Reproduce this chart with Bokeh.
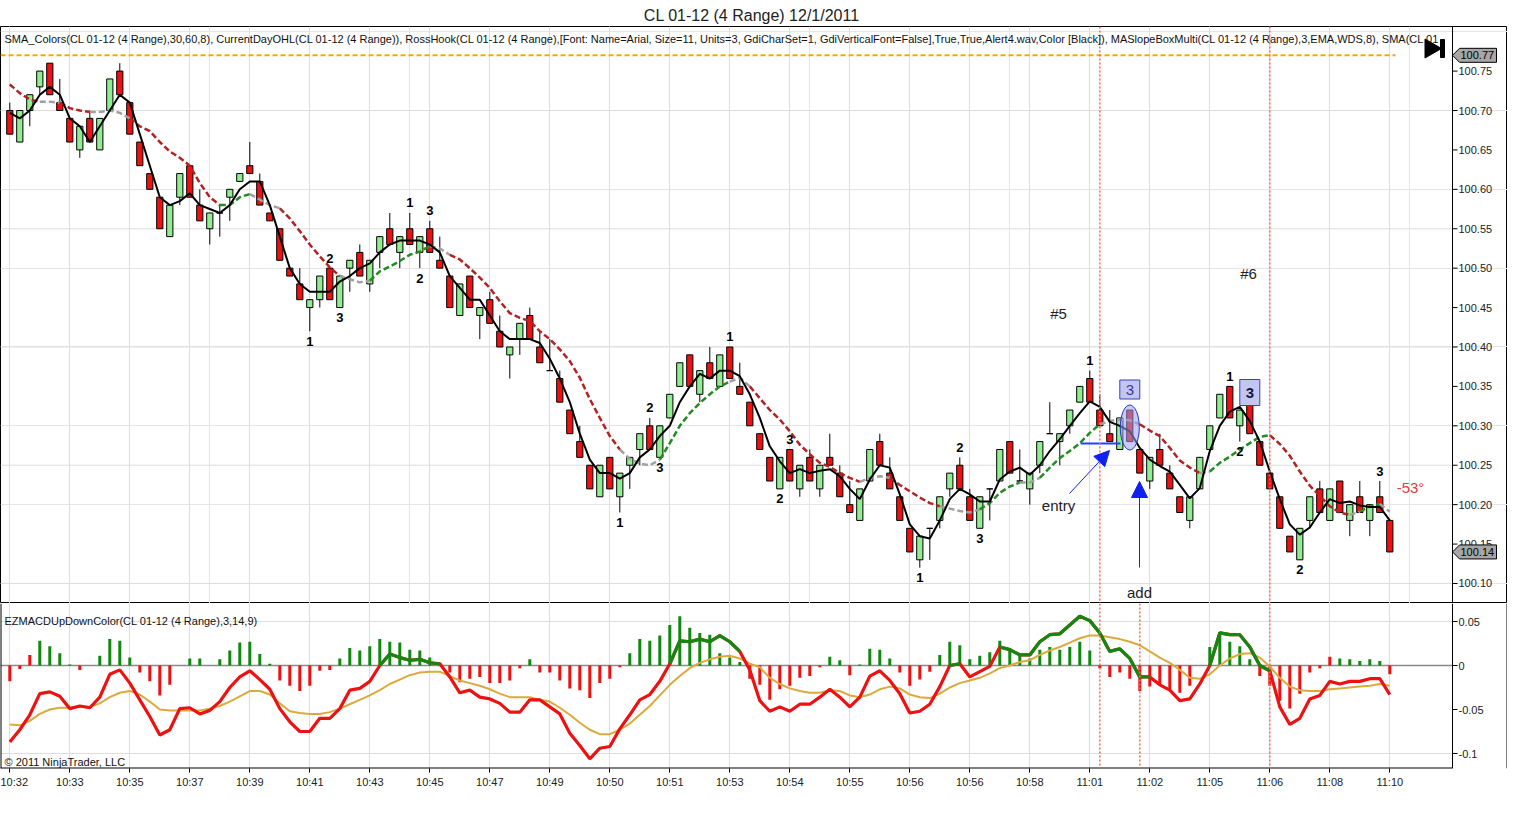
import numpy as np
from bokeh.plotting import figure
from bokeh.layouts import column
from bokeh.models import (Label, Arrow, NormalHead, Span, Grid, FixedTicker,
                          Range1d, ColumnDataSource)
from bokeh.embed import file_html
from bokeh.resources import INLINE
from bokeh.core.properties import value

FONT = "Liberation Sans"

# ---------------- data ----------------
time_labels = ["10:32", "10:33", "10:35", "10:37", "10:39", "10:41", "10:43", "10:45", "10:47", "10:49",
               "10:50", "10:51", "10:53", "10:54", "10:55", "10:56", "10:56", "10:58", "11:01", "11:02",
               "11:05", "11:06", "11:08", "11:10"]
price_ticks = [100.10, 100.15, 100.20, 100.25, 100.30, 100.35, 100.40, 100.45, 100.50, 100.55,
               100.60, 100.65, 100.70, 100.75]
price_grid = [100.10, 100.25, 100.40, 100.55, 100.70]
macd_ticks = [0.05, 0, -0.05, -0.1]
macd_tick_labels = ["0.05", "0", "-0.05", "-0.1"]
macd_grid = [0.05, -0.1]

opens = [100.70,100.66,100.70,100.73,100.76,100.71,100.69,100.65,100.69,100.65,
         100.70,100.75,100.71,100.66,100.62,100.59,100.54,100.59,100.63,100.58,
         100.55,100.57,100.59,100.61,100.63,100.61,100.57,100.55,100.50,100.48,
         100.45,100.46,100.50,100.45,100.50,100.52,100.48,100.52,100.55,100.52,
         100.55,100.52,100.55,100.51,100.49,100.44,100.49,100.44,100.46,100.42,
         100.39,100.41,100.44,100.40,100.37,100.36,100.32,100.28,100.25,100.21,
         100.26,100.21,100.25,100.27,100.30,100.26,100.31,100.35,100.39,100.34,
         100.38,100.35,100.40,100.35,100.33,100.29,100.26,100.22,100.27,100.22,
         100.26,100.22,100.26,100.24,100.20,100.18,100.23,100.28,100.24,100.21,
         100.17,100.13,100.17,100.18,100.22,100.25,100.21,100.17,100.22,100.23,
         100.28,100.23,100.22,100.25,100.29,100.28,100.30,100.33,100.36,100.32,
         100.29,100.27,100.32,100.27,100.23,100.27,100.24,100.21,100.18,100.22,
         100.27,100.31,100.35,100.30,100.33,100.28,100.24,100.21,100.16,100.13,
         100.18,100.22,100.18,100.23,100.18,100.21,100.18,100.21,100.18]
highs = [100.71,100.70,100.72,100.75,100.76,100.74,100.69,100.68,100.70,100.69,
         100.74,100.76,100.71,100.66,100.62,100.59,100.58,100.62,100.63,100.60,
         100.57,100.58,100.60,100.62,100.66,100.62,100.57,100.55,100.50,100.50,
         100.46,100.49,100.50,100.49,100.51,100.53,100.51,100.54,100.57,100.54,
         100.57,100.54,100.56,100.54,100.49,100.48,100.49,100.45,100.47,100.44,
         100.40,100.43,100.45,100.42,100.41,100.37,100.32,100.30,100.25,100.25,
         100.26,100.24,100.26,100.29,100.31,100.30,100.34,100.38,100.39,100.37,
         100.40,100.39,100.40,100.38,100.33,100.29,100.26,100.26,100.27,100.25,
         100.27,100.25,100.29,100.25,100.23,100.22,100.27,100.29,100.26,100.21,
         100.17,100.16,100.17,100.21,100.24,100.26,100.22,100.21,100.22,100.27,
         100.28,100.27,100.24,100.28,100.33,100.29,100.32,100.35,100.37,100.34,
         100.32,100.31,100.32,100.27,100.26,100.29,100.25,100.21,100.21,100.26,
         100.30,100.34,100.35,100.32,100.33,100.28,100.24,100.21,100.16,100.17,
         100.21,100.23,100.22,100.23,100.20,100.23,100.20,100.23,100.18]
lows = [100.67,100.66,100.68,100.72,100.72,100.70,100.66,100.64,100.66,100.65,
        100.70,100.72,100.67,100.63,100.60,100.55,100.54,100.58,100.59,100.56,
        100.53,100.54,100.56,100.61,100.62,100.58,100.56,100.51,100.49,100.46,
        100.42,100.45,100.46,100.45,100.47,100.49,100.47,100.50,100.53,100.50,
        100.53,100.50,100.52,100.50,100.45,100.44,100.45,100.41,100.43,100.40,
        100.36,100.39,100.41,100.38,100.37,100.33,100.29,100.26,100.22,100.21,
        100.22,100.19,100.22,100.25,100.27,100.26,100.31,100.35,100.35,100.33,
        100.36,100.35,100.36,100.34,100.30,100.27,100.23,100.22,100.23,100.21,
        100.23,100.21,100.25,100.21,100.19,100.18,100.23,100.25,100.22,100.18,
        100.14,100.12,100.13,100.17,100.21,100.22,100.18,100.17,100.18,100.23,
        100.24,100.23,100.20,100.24,100.29,100.25,100.29,100.33,100.33,100.30,
        100.28,100.27,100.28,100.24,100.22,100.25,100.22,100.19,100.17,100.22,
        100.27,100.31,100.31,100.28,100.29,100.25,100.22,100.17,100.14,100.13,
        100.17,100.19,100.18,100.19,100.16,100.19,100.16,100.19,100.14]
closes = [100.67,100.70,100.72,100.75,100.72,100.70,100.66,100.68,100.66,100.69,
          100.74,100.72,100.67,100.63,100.60,100.55,100.58,100.62,100.59,100.56,
          100.57,100.57,100.60,100.62,100.62,100.58,100.56,100.51,100.49,100.46,
          100.46,100.49,100.46,100.49,100.51,100.49,100.51,100.54,100.53,100.54,
          100.53,100.54,100.52,100.50,100.45,100.48,100.45,100.45,100.43,100.40,
          100.40,100.43,100.41,100.38,100.37,100.33,100.29,100.26,100.22,100.25,
          100.22,100.24,100.26,100.29,100.27,100.30,100.34,100.38,100.35,100.37,
          100.36,100.39,100.36,100.34,100.30,100.27,100.23,100.26,100.23,100.25,
          100.23,100.25,100.25,100.21,100.19,100.22,100.27,100.25,100.22,100.18,
          100.14,100.16,100.17,100.21,100.24,100.22,100.18,100.21,100.22,100.27,
          100.24,100.23,100.24,100.28,100.29,100.29,100.32,100.35,100.33,100.30,
          100.28,100.31,100.28,100.24,100.26,100.25,100.22,100.19,100.21,100.26,
          100.30,100.34,100.31,100.32,100.29,100.25,100.22,100.17,100.14,100.17,
          100.21,100.19,100.22,100.19,100.20,100.19,100.20,100.19,100.14]

ema_line = [100.697,100.690,100.700,100.720,100.730,100.720,100.690,100.680,100.660,100.680,
            100.700,100.720,100.710,100.670,100.630,100.590,100.580,100.585,100.595,100.580,
            100.575,100.570,100.580,100.600,100.610,100.610,100.580,100.540,100.500,100.480,
            100.470,100.470,100.470,100.483,100.490,100.500,100.506,100.520,100.530,100.535,
            100.535,100.535,100.530,100.520,100.490,100.475,100.460,100.460,100.440,100.420,
            100.410,100.410,100.410,100.405,100.385,100.360,100.330,100.290,100.257,100.240,
            100.240,100.233,100.240,100.260,100.270,100.287,100.300,100.330,100.350,100.366,
            100.360,100.370,100.370,100.363,100.340,100.310,100.274,100.255,100.240,100.245,
            100.240,100.243,100.245,100.236,100.220,100.207,100.232,100.250,100.247,100.213,
            100.175,100.160,100.157,100.180,100.207,100.220,100.213,100.204,100.204,100.232,
            100.242,100.247,100.238,100.250,100.268,100.283,100.300,100.316,100.331,100.324,
            100.305,100.300,100.293,100.272,100.257,100.249,100.242,100.225,100.208,100.221,
            100.268,100.300,100.318,100.324,100.306,100.280,100.242,100.207,100.175,100.162,
            100.171,100.190,100.207,100.202,100.204,100.199,100.197,100.197,100.180]

sma_line = [100.733,100.722,100.714,100.711,100.711,100.710,100.703,100.700,100.698,100.698,
            100.700,100.697,100.690,100.680,100.674,100.660,100.648,100.640,100.630,100.608,
            100.590,100.580,100.580,100.590,100.594,100.587,100.580,100.576,100.563,100.547,
            100.530,100.515,100.501,100.490,100.486,100.482,100.484,100.496,100.502,100.509,
            100.517,100.521,100.528,100.525,100.517,100.511,100.500,100.488,100.475,100.458,
            100.443,100.437,100.433,100.420,100.410,100.397,100.382,100.361,100.334,100.310,
            100.287,100.270,100.258,100.252,100.250,100.257,100.278,100.300,100.316,100.329,
            100.340,100.350,100.356,100.361,100.350,100.335,100.320,100.308,100.293,100.276,
            100.264,100.253,100.248,100.240,100.234,100.229,100.234,100.236,100.234,100.225,
            100.217,100.209,100.202,100.198,100.195,100.192,100.190,100.194,100.202,100.215,
            100.223,100.228,100.228,100.234,100.247,100.259,100.268,100.278,100.291,100.302,
            100.306,100.308,100.307,100.302,100.294,100.287,100.272,100.256,100.247,100.240,
            100.242,100.253,100.261,100.270,100.278,100.286,100.288,100.277,100.262,100.242,
            100.224,100.211,100.198,100.190,100.187,100.191,100.198,100.201,100.191]
# slope state of the coloured SMA: d = falling, u = rising, f = flat
sma_runs = [("d", 0, 3), ("f", 3, 5), ("d", 5, 8), ("f", 8, 12), ("d", 12, 21), ("u", 21, 24),
            ("f", 24, 27), ("d", 27, 33), ("f", 33, 36), ("u", 36, 42), ("f", 42, 44), ("d", 44, 61),
            ("f", 61, 65), ("u", 65, 72), ("f", 72, 74), ("d", 74, 85), ("f", 85, 88), ("d", 88, 93),
            ("f", 93, 97), ("u", 97, 101), ("f", 101, 103), ("u", 103, 109), ("f", 109, 113),
            ("d", 113, 119), ("f", 119, 120), ("u", 120, 126), ("d", 126, 134), ("f", 134, 135),
            ("u", 135, 137), ("f", 137, 138)]

day_high = 100.77
last_price = 100.14

swing_bars = [30, 32, 33, 40, 41, 42, 61, 64, 65, 72, 77, 78, 91, 95, 97, 108, 122, 123, 129, 137]
swing_texts = ["1", "2", "3", "1", "2", "3", "1", "2", "3", "1", "2", "3", "1", "2", "3", "1", "1", "2", "2", "3"]
swing_above = [False, True, False, True, False, True, False, True, False, True, False, True,
               False, True, False, True, True, False, False, True]
box_bars = [112, 124]
marker_bars_main = [109, 126]
marker_bars_macd = [109, 113, 126]

macd = [-0.087,-0.073,-0.056,-0.032,-0.030,-0.035,-0.049,-0.046,-0.048,-0.036,
        -0.010,-0.005,-0.020,-0.039,-0.058,-0.079,-0.073,-0.049,-0.048,-0.055,
        -0.051,-0.041,-0.025,-0.013,-0.006,-0.016,-0.027,-0.049,-0.064,-0.075,
        -0.075,-0.060,-0.060,-0.049,-0.028,-0.026,-0.018,0.000,0.013,0.009,
        0.006,0.007,0.003,0.002,-0.013,-0.031,-0.028,-0.036,-0.038,-0.043,
        -0.053,-0.053,-0.039,-0.039,-0.047,-0.055,-0.077,-0.091,-0.106,-0.094,
        -0.092,-0.072,-0.056,-0.039,-0.033,-0.018,0.002,0.028,0.027,0.030,
        0.027,0.034,0.027,0.016,-0.005,-0.040,-0.052,-0.047,-0.052,-0.044,
        -0.044,-0.036,-0.027,-0.036,-0.047,-0.036,-0.012,-0.006,-0.017,-0.032,
        -0.054,-0.052,-0.044,-0.024,0.000,0.002,-0.013,-0.007,-0.001,0.021,
        0.018,0.012,0.012,0.027,0.035,0.036,0.046,0.056,0.051,0.037,
        0.016,0.019,0.008,-0.013,-0.013,-0.022,-0.028,-0.040,-0.038,-0.021,
        0.000,0.037,0.035,0.035,0.021,0.000,-0.006,-0.047,-0.067,-0.060,
        -0.038,-0.034,-0.018,-0.021,-0.018,-0.018,-0.015,-0.015,-0.033]
macd_up_runs = [(37, 43), (66, 73), (94, 95), (99, 114), (120, 126)]
signal = [-0.067,-0.068,-0.063,-0.055,-0.050,-0.048,-0.048,-0.047,-0.047,-0.043,
          -0.036,-0.031,-0.029,-0.033,-0.041,-0.050,-0.051,-0.051,-0.051,-0.051,
          -0.049,-0.046,-0.041,-0.035,-0.029,-0.029,-0.033,-0.043,-0.052,-0.054,
          -0.055,-0.055,-0.053,-0.049,-0.044,-0.039,-0.034,-0.028,-0.021,-0.016,
          -0.011,-0.008,-0.007,-0.007,-0.012,-0.017,-0.020,-0.023,-0.027,-0.032,
          -0.036,-0.036,-0.036,-0.039,-0.041,-0.048,-0.056,-0.065,-0.073,-0.078,
          -0.078,-0.073,-0.066,-0.056,-0.046,-0.034,-0.022,-0.012,-0.003,0.003,
          0.007,0.010,0.011,0.008,0.002,-0.002,-0.014,-0.021,-0.026,-0.029,
          -0.031,-0.031,-0.028,-0.029,-0.034,-0.036,-0.033,-0.027,-0.024,-0.026,
          -0.033,-0.036,-0.037,-0.032,-0.025,-0.020,-0.017,-0.014,-0.009,-0.003,
          0.000,0.004,0.006,0.012,0.017,0.021,0.026,0.031,0.034,0.034,
          0.032,0.030,0.027,0.023,0.016,0.009,0.003,-0.005,-0.014,-0.015,
          -0.010,0.000,0.008,0.013,0.014,0.009,-0.001,-0.014,-0.024,-0.028,
          -0.029,-0.029,-0.027,-0.026,-0.025,-0.024,-0.023,-0.021,-0.023]
hist = [-0.018,-0.004,0.012,0.028,0.022,0.014,0.001,-0.005,0.000,0.011,
        0.030,0.028,0.009,-0.008,-0.018,-0.034,-0.022,0.000,0.008,0.008,
        0.000,0.007,0.017,0.026,0.027,0.013,0.002,-0.017,-0.023,-0.029,
        -0.023,-0.006,-0.005,0.008,0.020,0.017,0.022,0.030,0.027,0.026,
        0.018,0.017,0.009,0.003,-0.008,-0.019,-0.015,-0.013,-0.020,-0.020,
        -0.017,-0.003,0.007,-0.008,-0.008,-0.017,-0.026,-0.028,-0.037,-0.020,
        -0.015,-0.002,0.014,0.030,0.028,0.034,0.046,0.056,0.043,0.037,
        0.035,0.014,0.009,0.004,-0.015,-0.022,-0.039,-0.027,-0.023,-0.014,
        -0.012,-0.002,0.010,0.006,-0.011,0.001,0.019,0.018,0.008,-0.008,
        -0.023,-0.016,-0.007,0.012,0.027,0.023,0.007,0.011,0.015,0.028,
        0.019,0.013,0.008,0.018,0.021,0.018,0.021,0.027,0.017,-0.003,
        -0.013,-0.008,-0.015,-0.029,-0.024,-0.021,-0.027,-0.031,-0.023,0.000,
        0.021,0.038,0.027,0.022,0.007,-0.012,-0.023,-0.040,-0.049,-0.032,
        -0.008,-0.003,0.010,0.008,0.007,0.005,0.007,0.005,-0.010]
hist_red_positive = [2, 132]

header_text = ("SMA_Colors(CL 01-12 (4 Range),30,60,8), CurrentDayOHL(CL 01-12 (4 Range)), "
               "RossHook(CL 01-12 (4 Range),[Font: Name=Arial, Size=11, Units=3, GdiCharSet=1, "
               "GdiVerticalFont=False],True,True,Alert4.wav,Color [Black]), "
               "MASlopeBoxMulti(CL 01-12 (4 Range),3,EMA,WDS,8), SMA(CL 01")
title_text = "CL 01-12 (4 Range)  12/1/2011"

# ---------------- geometry helpers ----------------
n = len(closes)
idx = list(range(n))
W = 1507
FRAME_W = 1452      # plotting area width (price scale sits to its right, inside the frame)
PXB = 10.0          # pixels per bar
X0 = 9.3            # pixel of first bar
PXP = 788.3         # pixels per 1.0 price
xs = -X0 / PXB
xe = xs + W / PXB
y_top = 100.70 + (110 - 26) / PXP
y_bot = 100.70 - (603 - 110) / PXP
PXM = 880.0
m_top = (665 - 603) / PXM
m_bot = -(768 - 665) / PXM


def px2x(px):
    return (px - X0) / PXB


def py2y(py):
    return 100.70 - (py - 110) / PXP


GRID = "#dedede"
UP = "#90ee90"
DOWN = "#ee1111"
AXIS_X = px2x(FRAME_W)
tick_pos = list(range(0, n, 6))


def draw_scale(p, ticks, labels):
    p.add_layout(Span(location=AXIS_X, dimension="height", line_color="black", line_width=1))
    p.segment(x0=[AXIS_X] * len(ticks), y0=ticks, x1=[px2x(FRAME_W + 5)] * len(ticks),
              y1=ticks, line_color="black", line_width=1)
    p.text(x=[px2x(FRAME_W + 6)] * len(ticks), y=ticks, text=labels,
           text_font=value(FONT), text_font_size="11px", text_align="left", text_baseline="middle",
           text_color="#222222")


# ---------------- main price panel ----------------
p1 = figure(width=W, height=603, x_range=Range1d(xs, xe), y_range=Range1d(y_bot, y_top),
            output_backend="svg", toolbar_location=None, x_axis_location=None,
            y_axis_location=None, min_border_left=0, min_border_right=0,
            min_border_top=26, min_border_bottom=0, title=title_text)
p1.title.align = "center"
p1.title.offset = 4
p1.title.text_font = FONT
p1.title.text_font_size = "16px"
p1.title.text_font_style = "normal"
p1.title.text_color = "#222222"
p1.title.standoff = 6
p1.outline_line_color = "black"
p1.outline_line_alpha = 1
p1.background_fill_color = "white"
p1.border_fill_color = "white"
p1.add_layout(Grid(dimension=0, ticker=FixedTicker(ticks=tick_pos), grid_line_color=GRID))
p1.segment(x0=[xs] * len(price_grid), y0=price_grid, x1=[AXIS_X] * len(price_grid), y1=price_grid,
           line_color=GRID, line_width=1)
draw_scale(p1, price_ticks, ["%.2f" % t for t in price_ticks])

# day high line
p1.line([xs, px2x(1395)], [day_high, day_high], line_color="#ffa500", line_width=2, line_dash="5 3")

for b in marker_bars_main:
    p1.add_layout(Span(location=b, dimension="height", line_color="#ff6a4d", line_width=1.5, line_dash="2 2"))

src = ColumnDataSource(dict(
    x=idx, h=highs, l=lows,
    top=[max(o, c) for o, c in zip(opens, closes)],
    bot=[min(o, c) for o, c in zip(opens, closes)],
    color=[UP if c >= o else DOWN for o, c in zip(opens, closes)]))
p1.segment("x", "h", "x", "l", source=src, line_color="black", line_width=1)
p1.vbar(x="x", width=0.62, top="top", bottom="bot", fill_color="color", line_color="black",
        line_width=1, source=src)

# coloured SMA
run_color = {"d": "#b22222", "u": "#228b22", "f": "#a0a0a0"}
sx, sy, sc = [], [], []
for st, a, b in sma_runs:
    sx.append(idx[a:b + 1])
    sy.append(sma_line[a:b + 1])
    sc.append(run_color[st])
p1.multi_line(sx, sy, line_color=sc, line_width=2.5, line_dash="6 3")

# EMA line
p1.line(idx, ema_line, line_color="black", line_width=2)

# swing labels
lab_y = [highs[b] + 10 / PXP if ab else lows[b] - 10 / PXP for b, ab in zip(swing_bars, swing_above)]
p1.text(x=swing_bars, y=lab_y, text=swing_texts, text_font=value(FONT), text_font_style="bold",
        text_font_size="13px", text_align="center", text_baseline="middle", text_color="black")

# annotation group (entry/add)
p1.ellipse(x=[box_bars[0]], y=[py2y(427)], width=1.9, height=45 / PXP, fill_color="#9aa0ee",
           fill_alpha=0.55, line_color="#2233cc", line_width=1)
p1.rect(x=[box_bars[0]], y=[py2y(389)], width=2.0, height=19 / PXP, fill_color="#c4c6f2",
        line_color="#3344bb", line_width=1)
p1.rect(x=[box_bars[1]], y=[py2y(392)], width=2.0, height=26 / PXP, fill_color="#c4c6f2",
        line_color="#3344bb", line_width=1)
p1.text(x=[box_bars[0]], y=[py2y(389)], text=["3"], text_font=value(FONT), text_font_size="15px",
        text_align="center", text_baseline="middle", text_color="#3a3a9a")
p1.text(x=[box_bars[1]], y=[py2y(392)], text=["3"], text_font=value(FONT), text_font_style="bold",
        text_font_size="15px", text_align="center", text_baseline="middle", text_color="#15154a")
p1.line([px2x(1080), px2x(1120)], [py2y(443), py2y(443)], line_color="#2244ff", line_width=2)
p1.add_layout(Arrow(end=NormalHead(size=15, fill_color="#1020ee", line_color="#1020ee"),
                    x_start=px2x(1069), y_start=py2y(493), x_end=px2x(1109), y_end=py2y(450),
                    line_color="#1020ee", line_width=1))
p1.add_layout(Arrow(end=NormalHead(size=16, fill_color="#1020ee", line_color="#1020ee"),
                    x_start=px2x(1139), y_start=py2y(567), x_end=px2x(1139), y_end=py2y(481),
                    line_color="#1020ee", line_width=1))

txt = dict(text_font=value(FONT), text_font_size="15px", text_align="center", text_baseline="middle")
p1.text(x=[px2x(1058)], y=[py2y(313)], text=["#5"], text_color="#222222", **txt)
p1.text(x=[px2x(1248)], y=[py2y(273)], text=["#6"], text_color="#222222", **txt)
p1.text(x=[px2x(1058)], y=[py2y(505)], text=["entry"], text_color="#222222", **txt)
p1.text(x=[px2x(1139)], y=[py2y(592)], text=["add"], text_color="#222222", **txt)
p1.text(x=[px2x(1410)], y=[py2y(487)], text=["-53°"], text_color="#e23b3b", **txt)

# header text (behind the icon)
p1.add_layout(Label(x=4, y=603 - 38, x_units="screen", y_units="screen", text=header_text,
                    text_font=FONT, text_font_size="11px", text_baseline="middle", text_color="#111111"))

# play-to-end icon
p1.scatter(x=[px2x(1430)], y=[py2y(48)], marker="triangle", angle=-np.pi / 2, size=19,
           fill_color="black", line_color="black")
p1.rect(x=[px2x(1442)], y=[py2y(48)], width=0.4, height=18 / PXP, fill_color="black", line_color="black")

# price tags (day high and last price)
half = 7 / PXP
tag_xs, tag_ys = [], []
for v in (day_high, last_price):
    tag_xs.append([AXIS_X, px2x(1459), px2x(1496), px2x(1496), px2x(1459)])
    tag_ys.append([v, v + half, v + half, v - half, v - half])
p1.patches(tag_xs, tag_ys, fill_color="#a6a6a6", line_color="black", line_width=1)
p1.text(x=[px2x(1460)] * 2, y=[day_high, last_price], text=["%.2f" % day_high, "%.2f" % last_price],
        text_font=value(FONT), text_font_size="11px", text_align="left", text_baseline="middle",
        text_color="black")

# ---------------- MACD panel ----------------
p2 = figure(width=W, height=195, x_range=Range1d(xs, xe), y_range=Range1d(m_bot, m_top),
            output_backend="svg", toolbar_location=None, y_axis_location=None,
            min_border_left=0, min_border_right=0, min_border_top=0, min_border_bottom=30)
p2.outline_line_color = None
p2.background_fill_color = "white"
p2.border_fill_color = "white"
p2.ygrid.visible = False
p2.xgrid.ticker = FixedTicker(ticks=tick_pos)
p2.xgrid.grid_line_color = GRID
p2.segment(x0=[xs] * len(macd_grid), y0=macd_grid, x1=[AXIS_X] * len(macd_grid), y1=macd_grid,
           line_color=GRID, line_width=1)
p2.xaxis.ticker = FixedTicker(ticks=tick_pos)
p2.xaxis.major_label_overrides = {t: lab for t, lab in zip(tick_pos, time_labels)}
p2.xaxis.axis_line_color = None
p2.xaxis.major_tick_line_color = "black"
p2.xaxis.major_tick_out = 4
p2.xaxis.major_tick_in = 0
p2.xaxis.minor_tick_out = 0
p2.xaxis.minor_tick_in = 0
p2.xaxis.major_label_text_font = FONT
p2.xaxis.major_label_text_font_size = "11px"
p2.xaxis.major_label_text_color = "#222222"
p2.xaxis.major_label_standoff = 3
# frame lines: left edge, bottom edge of the indicator area, right border of the window
p2.add_layout(Span(location=xs, dimension="height", line_color="black", line_width=2))
p2.add_layout(Span(location=xe, dimension="height", line_color="black", line_width=2))
p2.segment(x0=[xs], y0=[m_bot], x1=[AXIS_X], y1=[m_bot], line_color="black", line_width=2)
draw_scale(p2, macd_ticks, macd_tick_labels)

p2.segment(x0=[xs], y0=[0], x1=[AXIS_X], y1=[0], line_color="#8a8a8a", line_width=1.5)
for b in marker_bars_macd:
    p2.add_layout(Span(location=b, dimension="height", line_color="#ff6a4d", line_width=1.5, line_dash="2 2"))

hcol = [("#ee1111" if (v <= 0 or i in hist_red_positive) else "#118811") for i, v in enumerate(hist)]
p2.vbar(x=idx, top=hist, bottom=0, width=0.3, fill_color=hcol, line_color=None)
p2.line(idx, signal, line_color="#dcaa3c", line_width=2)
p2.line(idx, macd, line_color="#ee1111", line_width=3.2)
gx = [idx[a:b + 1] for a, b in macd_up_runs]
gy = [macd[a:b + 1] for a, b in macd_up_runs]
p2.multi_line(gx, gy, line_color="#118811", line_width=3.2)

p2.add_layout(Label(x=4, y=768 - 620, x_units="screen", y_units="screen",
                    text="EZMACDUpDownColor(CL 01-12 (4 Range),3,14,9)", text_font=FONT,
                    text_font_size="11px", text_baseline="middle", text_color="#111111"))
p2.add_layout(Label(x=4, y=768 - 761, x_units="screen", y_units="screen",
                    text="© 2011 NinjaTrader, LLC", text_font=FONT,
                    text_font_size="11px", text_baseline="middle", text_color="#111111"))

layout = column(p1, p2, spacing=0)
open("out.html", "w").write(file_html(layout, INLINE))
